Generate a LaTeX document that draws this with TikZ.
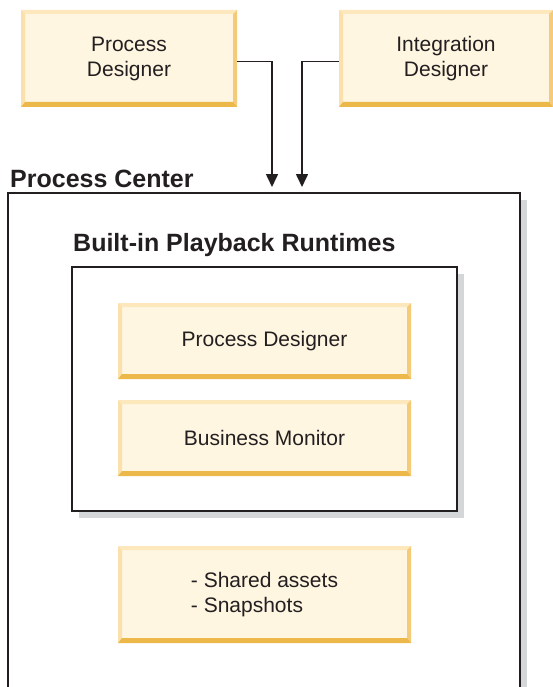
\documentclass[tikz,border=0pt]{standalone}
\usepackage{fontspec}
\setmainfont{Liberation Sans}
\usetikzlibrary{arrows.meta}
\definecolor{cream}{HTML}{FEF6E1}
\definecolor{bevT}{HTML}{FDE7BD}
\definecolor{bevL}{HTML}{FCE0AC}
\definecolor{bevR}{HTML}{F5CA78}
\definecolor{bevB}{HTML}{EDB84A}
\definecolor{shade}{HTML}{D5D6D8}
\definecolor{ink}{HTML}{231F20}
\tikzset{
  ybox/.style={fill=cream, inner sep=0pt, align=center, text=ink,
    font=\fontsize{21}{25}\selectfont,
    path picture={
      \coordinate (nw) at (path picture bounding box.north west);
      \coordinate (ne) at (path picture bounding box.north east);
      \coordinate (sw) at (path picture bounding box.south west);
      \coordinate (se) at (path picture bounding box.south east);
      \fill[bevT] (nw) -- (ne) -- ([shift={(-4pt,-4pt)}]ne) -- ([shift={(4pt,-4pt)}]nw) -- cycle;
      \fill[bevL] (nw) -- ([shift={(4pt,-4pt)}]nw) -- ([shift={(4pt,5pt)}]sw) -- (sw) -- cycle;
      \fill[bevR] (ne) -- ([shift={(-4pt,-4pt)}]ne) -- ([shift={(-4pt,5pt)}]se) -- (se) -- cycle;
      \fill[bevB] (sw) -- ([shift={(4pt,5pt)}]sw) -- ([shift={(-4pt,5pt)}]se) -- (se) -- cycle;
    }},
  frame/.style={draw=ink, line width=1.6pt, fill=white, inner sep=0pt},
  shadowbox/.style={fill=shade, inner sep=0pt},
  title/.style={font=\fontsize{25}{30}\selectfont\bfseries, text=ink, anchor=west, inner sep=0pt},
  arr/.style={draw=ink, line width=1.6pt, -{Triangle[width=12pt,length=13pt]}}
}
\begin{document}
\begin{tikzpicture}[x=1pt,y=-1pt]
\useasboundingbox (0,0) rectangle (553,687);
\clip (0,0) rectangle (553,687);
% top tools
\node[ybox, minimum width=216pt, minimum height=97pt] (pd) at (129,58.5) {Process\\Designer};
\node[ybox, minimum width=214pt, minimum height=97pt] (id) at (446,58.5) {Integration\\Designer};
% process center
\node[title] (pctitle) at (10,179) {Process Center};
\node[shadowbox, minimum width=512pt, minimum height=520pt] (pcsh) at (271,460) {};
\node[frame, minimum width=512pt, minimum height=520pt] (pc) at (264,453) {};
% arrows
\coordinate (tip1) at (272,187);
\coordinate (tip2) at (302,187);
\draw[arr] ([yshift=-3pt]pd.east) -| (tip1);
\draw[arr] ([yshift=-3pt]id.west) -| (tip2);
% runtimes
\node[title] (rttitle) at (73,245) {Built-in Playback Runtimes};
\node[shadowbox, minimum width=385pt, minimum height=244pt] (rtsh) at (271.5,396) {};
\node[frame, minimum width=385pt, minimum height=244pt] (rt) at (264.5,389) {};
\node[ybox, minimum width=293pt, minimum height=76pt] (ipd) at (264.5,341) {Process Designer};
\node[ybox, minimum width=293pt, minimum height=76pt] (bm) at (264.5,438) {Business Monitor};
% repository
\node[ybox, minimum width=293pt, minimum height=97pt, align=left] (sa) at (264.5,594.5) {- Shared assets\\- Snapshots};
\end{tikzpicture}
\end{document}
